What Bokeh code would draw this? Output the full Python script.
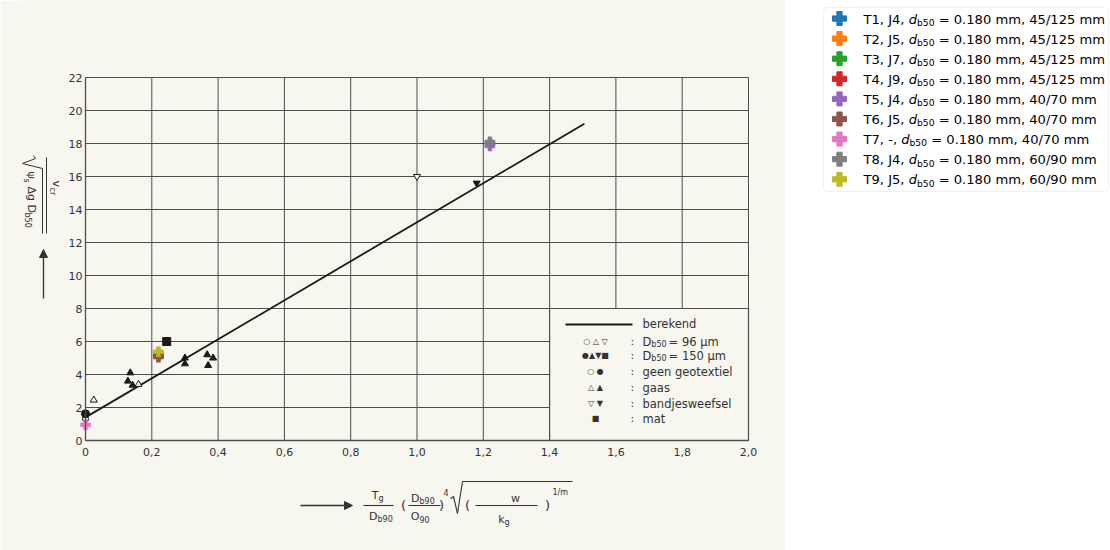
import math

from bokeh.core.properties import value
from bokeh.embed import file_html
from bokeh.layouts import row
from bokeh.models import (Arrow, BoxAnnotation, ColumnDataSource, CustomJSTickFormatter,
                          FixedTicker, NormalHead, Range1d)
from bokeh.plotting import figure
from bokeh.resources import INLINE

# ---------------------------------------------------------------- data
x_ticks = [0.0, 0.2, 0.4, 0.6, 0.8, 1.0, 1.2, 1.4, 1.6, 1.8, 2.0]
x_tick_labels = ["0", "0,2", "0,4", "0,6", "0,8", "1,0", "1,2", "1,4", "1,6", "1,8", "2,0"]
y_ticks = [0, 2, 4, 6, 8, 10, 12, 14, 16, 18, 20, 22]
y_tick_labels = ["0", "2", "4", "6", "8", "10", "12", "14", "16", "18", "20", "22"]

# computed relation ("berekend")
berekend_x = [0.0, 1.505]
berekend_y = [1.4, 19.2]

# measured points, D_b50 = 96 um (open) and 150 um (filled)
open_circle_x = [0.0]
open_circle_y = [1.3]
filled_circle_x = [0.0]
filled_circle_y = [1.62]
open_tri_x = [0.025, 0.16]
open_tri_y = [2.45, 3.4]
filled_tri_x = [0.135, 0.128, 0.142, 0.30, 0.30, 0.367, 0.385, 0.37]
filled_tri_y = [4.1, 3.6, 3.35, 5.0, 4.65, 5.2, 5.0, 4.55]
open_inv_x = [1.0]
open_inv_y = [16.0]
filled_inv_x = [1.18]
filled_inv_y = [15.6]
mat_x = [0.245]
mat_y = [6.0]

# new tests
tests = ["T1", "T2", "T3", "T4", "T5", "T6", "T7", "T8", "T9"]
joints = ["J4", "J5", "J7", "J9", "J4", "J5", "-", "J4", "J5"]
d_b50_mm = [0.180, 0.180, 0.180, 0.180, 0.180, 0.180, 0.180, 0.180, 0.180]
gradings = ["45/125", "45/125", "45/125", "45/125", "40/70", "40/70", "40/70", "60/90", "60/90"]
test_x = [1.22, 0.22, 0.22, 0.22, 1.22, 0.22, 0.0, 1.22, 0.22]
test_y = [18.0, 5.3, 5.2, 5.1, 17.85, 5.05, 0.95, 18.1, 5.38]
test_colors = ["#1f77b4", "#ff7f0e", "#2ca02c", "#d62728", "#9467bd",
               "#8c564b", "#e377c2", "#7f7f7f", "#bcbd22"]

# ---------------------------------------------------------------- geometry / styling
PAPER = "#f7f6ef"
INK = "#333333"
GRID = "#4d4d4d"
BLACK = "#1a1a1a"
FONT = "DejaVu Sans"

MAIN_W, H = 785, 550
X0, X1, Y0, Y1 = 0.0, 2.0, 0.0, 22.0
# page pixels of the data box corners
PX_X0, PX_X1, PX_Y0, PX_Y1 = 85, 748, 440, 77
# the frame spans the whole sheet except thin strips for the axis panels
BORDER_L, BORDER_B = 20, 22
SX = (X1 - X0) / (PX_X1 - PX_X0)
SY = (Y1 - Y0) / (PX_Y0 - PX_Y1)


def dx(px):
    return X0 + (px - PX_X0) * SX


def dy(py):
    return Y0 + (PX_Y0 - py) * SY


p = figure(width=MAIN_W, height=H,
           x_range=Range1d(dx(BORDER_L), dx(MAIN_W)),
           y_range=Range1d(dy(H - BORDER_B), dy(0)),
           output_backend="svg", toolbar_location=None,
           min_border_left=BORDER_L, min_border_right=0,
           min_border_top=0, min_border_bottom=BORDER_B,
           background_fill_color=PAPER, border_fill_color=PAPER,
           outline_line_color=None)
p.grid.visible = False

# axes drawn along the data box edges
p.xaxis.ticker = FixedTicker(ticks=x_ticks)
p.xaxis.formatter = CustomJSTickFormatter(args=dict(labels=x_tick_labels),
                                          code="return labels[index];")
p.yaxis.ticker = FixedTicker(ticks=y_ticks)
p.yaxis.formatter = CustomJSTickFormatter(args=dict(labels=y_tick_labels),
                                          code="return labels[index];")
p.xaxis.fixed_location = Y0
p.yaxis.fixed_location = X0
p.xaxis.bounds = (X0, X1)
p.yaxis.bounds = (Y0, Y1)
for ax in (p.xaxis[0], p.yaxis[0]):
    ax.axis_line_color = GRID
    ax.axis_line_width = 1.3
    ax.major_tick_line_color = None
    ax.minor_tick_line_color = None
    ax.major_tick_out = 0
    ax.major_tick_in = 0
    ax.major_label_text_font = FONT
    ax.major_label_text_font_size = "11px"
    ax.major_label_text_color = INK
p.xaxis.major_label_standoff = 7
p.yaxis.major_label_standoff = 3

# grid of the sheet
p.segment(x0=x_ticks, y0=[Y0] * len(x_ticks), x1=x_ticks, y1=[Y1] * len(x_ticks),
          line_color=GRID, line_width=1.0)
p.segment(x0=[X0] * len(y_ticks), y0=y_ticks, x1=[X1] * len(y_ticks), y1=y_ticks,
          line_color=GRID, line_width=1.0)

# key panel (lower right) hides the grid behind it
KEY_L, KEY_R, KEY_B, KEY_T = 1.4, 2.0, 0.0, 8.0
p.quad(left=[KEY_L], right=[KEY_R], bottom=[KEY_B], top=[KEY_T],
       fill_color=PAPER, line_color=GRID, line_width=1.2)

# computed line
p.line(berekend_x, berekend_y, line_color=BLACK, line_width=1.8)

# measured points
MS = 7
p.scatter(open_circle_x, open_circle_y, marker="circle", size=MS - 1,
          fill_color=PAPER, line_color=BLACK, line_width=1)
p.scatter(filled_circle_x, filled_circle_y, marker="circle", size=MS + 1,
          fill_color=BLACK, line_color=BLACK)
p.scatter(open_tri_x, open_tri_y, marker="triangle", size=MS,
          fill_color=PAPER, line_color=BLACK, line_width=1)
p.scatter(filled_tri_x, filled_tri_y, marker="triangle", size=MS,
          fill_color=BLACK, line_color=BLACK)
p.scatter(open_inv_x, open_inv_y, marker="inverted_triangle", size=MS,
          fill_color=PAPER, line_color=BLACK, line_width=1)
p.scatter(filled_inv_x, filled_inv_y, marker="inverted_triangle", size=MS,
          fill_color=BLACK, line_color=BLACK)
p.scatter(mat_x, mat_y, marker="square", size=MS + 1,
          fill_color=BLACK, line_color=BLACK)

# new tests, drawn one after another
for tx, ty, c in zip(test_x, test_y, test_colors):
    p.scatter([tx], [ty], marker="plus", size=10, fill_color=c, line_color=c, line_width=0.5)


# ---------------------------------------------------------------- hand lettering
def put(text, px, py, size, align="left", baseline="middle", angle=0.0, style="normal"):
    p.text(x=[dx(px)], y=[dy(py)], text=[text], text_font=value(FONT),
           text_font_size=f"{size}px", text_color=INK, text_align=align,
           text_baseline=baseline, angle=angle, text_font_style=style)


def stroke(x0, y0, x1, y1, width=1.1):
    p.line([dx(x0), dx(x1)], [dy(y0), dy(y1)], line_color=INK, line_width=width)


def arrow(x0, y0, x1, y1):
    p.add_layout(Arrow(x_start=dx(x0), y_start=dy(y0), x_end=dx(x1), y_end=dy(y1),
                       line_color=INK, line_width=1.3,
                       end=NormalHead(size=8, fill_color=INK, line_color=INK)))


# key panel content
p.line([dx(565), dx(632)], [dy(324), dy(324)], line_color=BLACK, line_width=1.8)
put("berekend", 642, 323, 11.5)
char_w = {"D": 1577, "b": 1300, "5": 1303, "0": 1303, " ": 651, "=": 1716}
key_rows = [
    (341, "\u25cb \u25b3 \u25bd", [("D", 0, 11.5, 0), ("b50", 3, 8, 2), ("= 96 \u00b5m", 0, 11.5, 0)]),
    (355, "\u25cf\u25b2\u25bc\u25a0", [("D", 0, 11.5, 0), ("b50", 3, 8, 2), ("= 150 \u00b5m", 0, 11.5, 0)]),
    (371, "\u25cb \u25cf", [("geen geotextiel", 0, 11.5, 0)]),
    (387, "\u25b3 \u25b2", [("gaas", 0, 11.5, 0)]),
    (403, "\u25bd \u25bc", [("bandjesweefsel", 0, 11.5, 0)]),
    (418, "\u25a0", [("mat", 0, 11.5, 0)]),
]
for py, sym, parts in key_rows:
    put(sym, 595, py, 8, align="center")
    put(":", 630, py, 11)
    xcur = 642
    for txt, drop, size, gap in parts:
        put(txt, xcur, py + drop, size)
        xcur += sum(char_w.get(ch, 1300) for ch in txt) / 2048 * size + gap

# vertical axis title, lettered downwards
ROT = -math.pi / 2
put("v", 56, 180, 11, angle=ROT)
put("cr", 52, 187, 8, angle=ROT)
stroke(46, 157, 46, 233, width=1.0)
stroke(33, 155, 35, 158, width=1.0)
stroke(35, 158, 22, 163, width=1.0)
stroke(22, 163, 42, 168, width=1.0)
stroke(42, 168, 42, 233, width=1.0)
put("\u03c8", 31, 171, 11, angle=ROT)
put("s", 26, 178, 8, angle=ROT)
put("\u0394g D", 31, 186, 11, angle=ROT)
put("b50", 27, 212, 8, angle=ROT)
arrow(43, 298, 43, 249)

# horizontal axis title
arrow(300, 505, 352, 505)
put("T", 378, 495, 11, align="right")
put("g", 378, 498, 8)
stroke(363, 505, 393, 505)
put("D", 377, 516, 11, align="right")
put("b90", 377, 519, 8)
put("(", 403, 505, 13, align="center")
put("D", 419, 498, 11, align="right")
put("b90", 419, 501, 8)
stroke(408, 505, 440, 505)
put("O", 419, 516, 11, align="right")
put("90", 419, 519, 8)
put(")", 441, 505, 13, align="center")
put("4", 443, 492, 8)
stroke(450, 498, 453, 496)
stroke(453, 496, 457, 513)
stroke(457, 513, 462, 481)
stroke(462, 481, 572, 481)
put("(", 467, 505, 13, align="center")
stroke(475, 505, 537, 505)
put("w", 515, 498, 11, align="center")
put("k", 504, 519, 11, align="right")
put("g", 504, 522, 8)
put(")", 547, 505, 13, align="center")
put("1/m", 552, 492, 8)

# ---------------------------------------------------------------- legend
LEG_W = 1110 - MAIN_W
q = figure(width=LEG_W, height=H, x_range=Range1d(0, LEG_W), y_range=Range1d(H - BORDER_B, 0),
           output_backend="svg", toolbar_location=None,
           min_border_left=0, min_border_right=0, min_border_top=0, min_border_bottom=BORDER_B,
           x_axis_type=None, y_axis_type=None, outline_line_color=None,
           background_fill_color="white", border_fill_color="white")
q.add_layout(BoxAnnotation(left=38, right=323, top=7, bottom=191, fill_color="white",
                           fill_alpha=0.8, line_color="#cccccc", line_width=1,
                           border_radius=4, level="underlay"))

W = {" ": 651, ",": 651, "-": 739, ".": 651, "/": 690, "=": 1716, "T": 1251,
     "J": 604, "b": 1300, "d": 1300, "m": 1995}


def tw(s, size):
    return sum(W.get(ch, 1303) for ch in s) / 2048 * size


FS = 13.1
ROW0, ROWDY = 18.0, 20.1
TEXT_X, MARK_X = 78.0, 54.0
rows_y = [ROW0 + i * ROWDY for i in range(len(tests))]
q.scatter(x=[MARK_X] * len(tests), y=rows_y, marker="plus", size=14,
          fill_color=test_colors, line_color=test_colors)

prefix, rest, xd, xs, xr, ym, ys = [], [], [], [], [], [], []
for i, t in enumerate(tests):
    pre = f"{t}, {joints[i]}, "
    tail = f"= {d_b50_mm[i]:.3f} mm, {gradings[i]} mm"
    prefix.append(pre)
    rest.append(tail)
    x_d = TEXT_X + tw(pre, FS)
    x_s = x_d + tw("d", FS)
    xd.append(x_d)
    xs.append(x_s)
    xr.append(x_s + tw("b50", FS * 0.7) + tw(" ", FS))
    ym.append(rows_y[i] + 0.5)
    ys.append(rows_y[i] + 3.8)

src = ColumnDataSource(dict(prefix=prefix, rest=rest, d=["d"] * len(tests),
                            sub=["b50"] * len(tests), x0=[TEXT_X] * len(tests),
                            xd=xd, xs=xs, xr=xr, ym=ym, ys=ys))
common = dict(source=src, text_font=value(FONT), text_color="#000000",
              text_baseline="middle", text_align="left")
q.text(x="x0", y="ym", text="prefix", text_font_size=f"{FS}px", **common)
q.text(x="xd", y="ym", text="d", text_font_size=f"{FS}px", text_font_style="italic", **common)
q.text(x="xs", y="ys", text="sub", text_font_size=f"{FS * 0.7:.2f}px", **common)
q.text(x="xr", y="ym", text="rest", text_font_size=f"{FS}px", **common)

layout = row(p, q)
open("out.html", "w").write(file_html(layout, INLINE))
